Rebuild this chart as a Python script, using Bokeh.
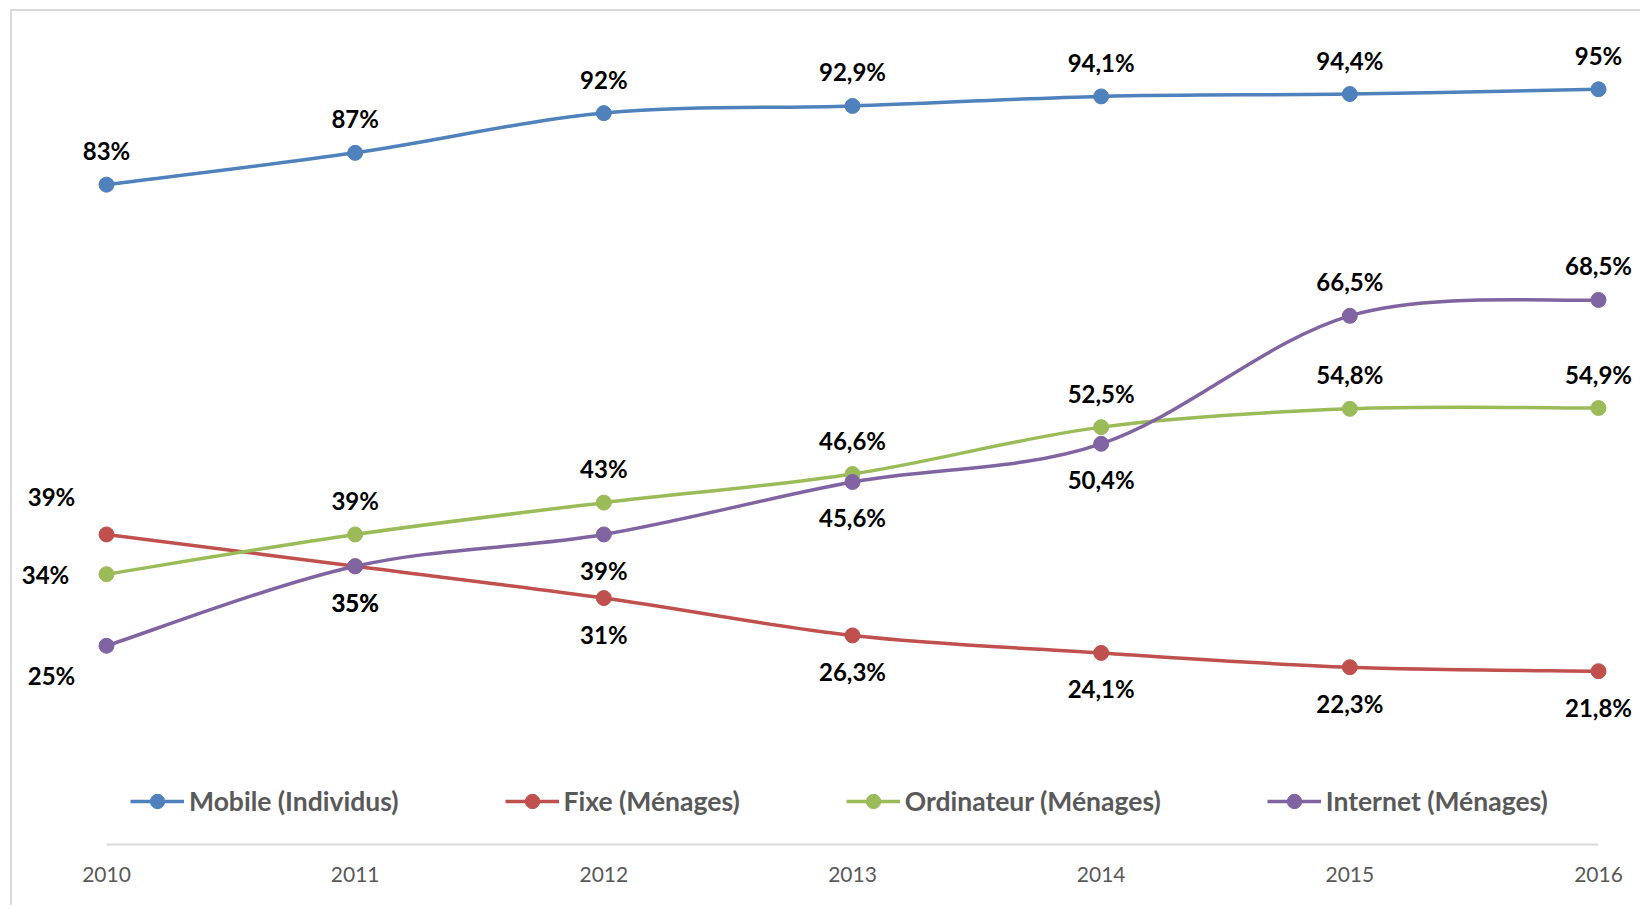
from bokeh.plotting import figure
from bokeh.models import Range1d, Legend, LegendItem, ColumnDataSource, FixedTicker
from bokeh.core.properties import value
from bokeh.embed import file_html
from bokeh.resources import INLINE

# ---------------- data ----------------
years = [2010, 2011, 2012, 2013, 2014, 2015, 2016]
tick_labels = ["2010", "2011", "2012", "2013", "2014", "2015", "2016"]
mobile = [83, 87, 92, 92.9, 94.1, 94.4, 95]
fixe = [39, 35, 31, 26.3, 24.1, 22.3, 21.8]
ordinateur = [34, 39, 43, 46.6, 52.5, 54.8, 54.9]
internet = [25, 35, 39, 45.6, 50.4, 66.5, 68.5]
series_names = ["Mobile (Individus)", "Fixe (Ménages)", "Ordinateur (Ménages)", "Internet (Ménages)"]

# ---------------- styles ----------------
colors = ["#4F81BD", "#C0504D", "#9BBB59", "#8064A2"]
label_pos = [
    ["above"] * 7,
    ["left_above", "below", "below", "below", "below", "below", "below"],
    ["left", "above", "above", "above", "above", "above", "above"],
    ["left_below", "below", "below", "below", "below", "above", "above"],
]
OFFSETS = {
    "above": (0, -34),
    "below": (0, 36),
    "left": (-61, 0),
    "left_above": (-55, -38),
    "left_below": (-55, 30),
}

W, H = 1630, 896
BOTTOM = 63
FRAME_H = H - BOTTOM
PX_Y = 7.95                      # pixels per percent
X_FIRST, X_LAST = 94, 1586       # canvas px of first / last category
px_year = (X_LAST - X_FIRST) / (years[-1] - years[0])
x_start = years[0] - X_FIRST / px_year
x_end = years[-1] + (W - X_LAST) / px_year
y_end = FRAME_H / PX_Y

p = figure(width=W, height=H, x_range=Range1d(x_start, x_end), y_range=Range1d(0, y_end),
           output_backend="svg", toolbar_location=None, y_axis_location=None,
           min_border_left=0, min_border_right=0, min_border_top=0, min_border_bottom=BOTTOM)
p.styles = {"margin-left": "10px", "margin-top": "9px",
            "border-left": "2px solid #d9d9d9", "border-top": "2px solid #d9d9d9"}
p.grid.visible = False
p.outline_line_color = None
p.background_fill_color = "white"
p.border_fill_color = "white"

ax = p.xaxis[0]
ax.ticker = FixedTicker(ticks=years)
ax.major_label_overrides = {y: t for y, t in zip(years, tick_labels)}
ax.bounds = (years[0], years[-1])
ax.axis_line_color = "#d9d9d9"
ax.axis_line_width = 2
ax.major_tick_line_color = None
ax.minor_tick_line_color = None
ax.major_label_standoff = 16
ax.major_label_text_font = "Lato"
ax.major_label_text_font_size = "21px"
ax.major_label_text_color = "#595959"


def fmt(v):
    return f"{v:g}".replace(".", ",") + "%"


def smooth_controls(xs, ys):
    n = len(xs)
    seg = dict(x0=[], y0=[], x1=[], y1=[], cx0=[], cy0=[], cx1=[], cy1=[])
    for i in range(n - 1):
        im = max(i - 1, 0)
        ip2 = min(i + 2, n - 1)
        seg["x0"].append(xs[i]); seg["y0"].append(ys[i])
        seg["x1"].append(xs[i + 1]); seg["y1"].append(ys[i + 1])
        seg["cx0"].append(xs[i] + (xs[i + 1] - xs[im]) / 6)
        seg["cy0"].append(ys[i] + (ys[i + 1] - ys[im]) / 6)
        seg["cx1"].append(xs[i + 1] - (xs[ip2] - xs[i]) / 6)
        seg["cy1"].append(ys[i + 1] - (ys[ip2] - ys[i]) / 6)
    return seg


all_series = [mobile, fixe, ordinateur, internet]
items = []
for vals, name, col in zip(all_series, series_names, colors):
    seg = ColumnDataSource(smooth_controls(years, vals))
    bz = p.bezier(x0="x0", y0="y0", x1="x1", y1="y1", cx0="cx0", cy0="cy0",
                  cx1="cx1", cy1="cy1", source=seg, line_color=col, line_width=3.5)
    sc = p.scatter(years, vals, size=15, fill_color=col, line_color=col)
    items.append(LegendItem(label=name, renderers=[bz, sc]))

for vals, poss in zip(all_series, label_pos):
    src = ColumnDataSource(dict(
        x=years, y=vals, t=[fmt(v) for v in vals],
        dx=[OFFSETS[q][0] for q in poss], dy=[OFFSETS[q][1] for q in poss]))
    p.text(x="x", y="y", text="t", x_offset="dx", y_offset="dy", source=src,
           text_font=value("Lato"), text_font_style="bold", text_font_size="24px",
           text_align="center", text_baseline="middle", text_color="black")

legend = Legend(items=items, orientation="horizontal", location=(118, 25),
                glyph_width=54, glyph_height=36, label_standoff=5, spacing=106,
                padding=0, margin=0, border_line_color=None, background_fill_alpha=0,
                label_text_font="Lato", label_text_font_style="bold",
                label_text_font_size="26.5px", label_text_color="#595959")
p.add_layout(legend)

open("out.html", "w").write(file_html(p, INLINE))
